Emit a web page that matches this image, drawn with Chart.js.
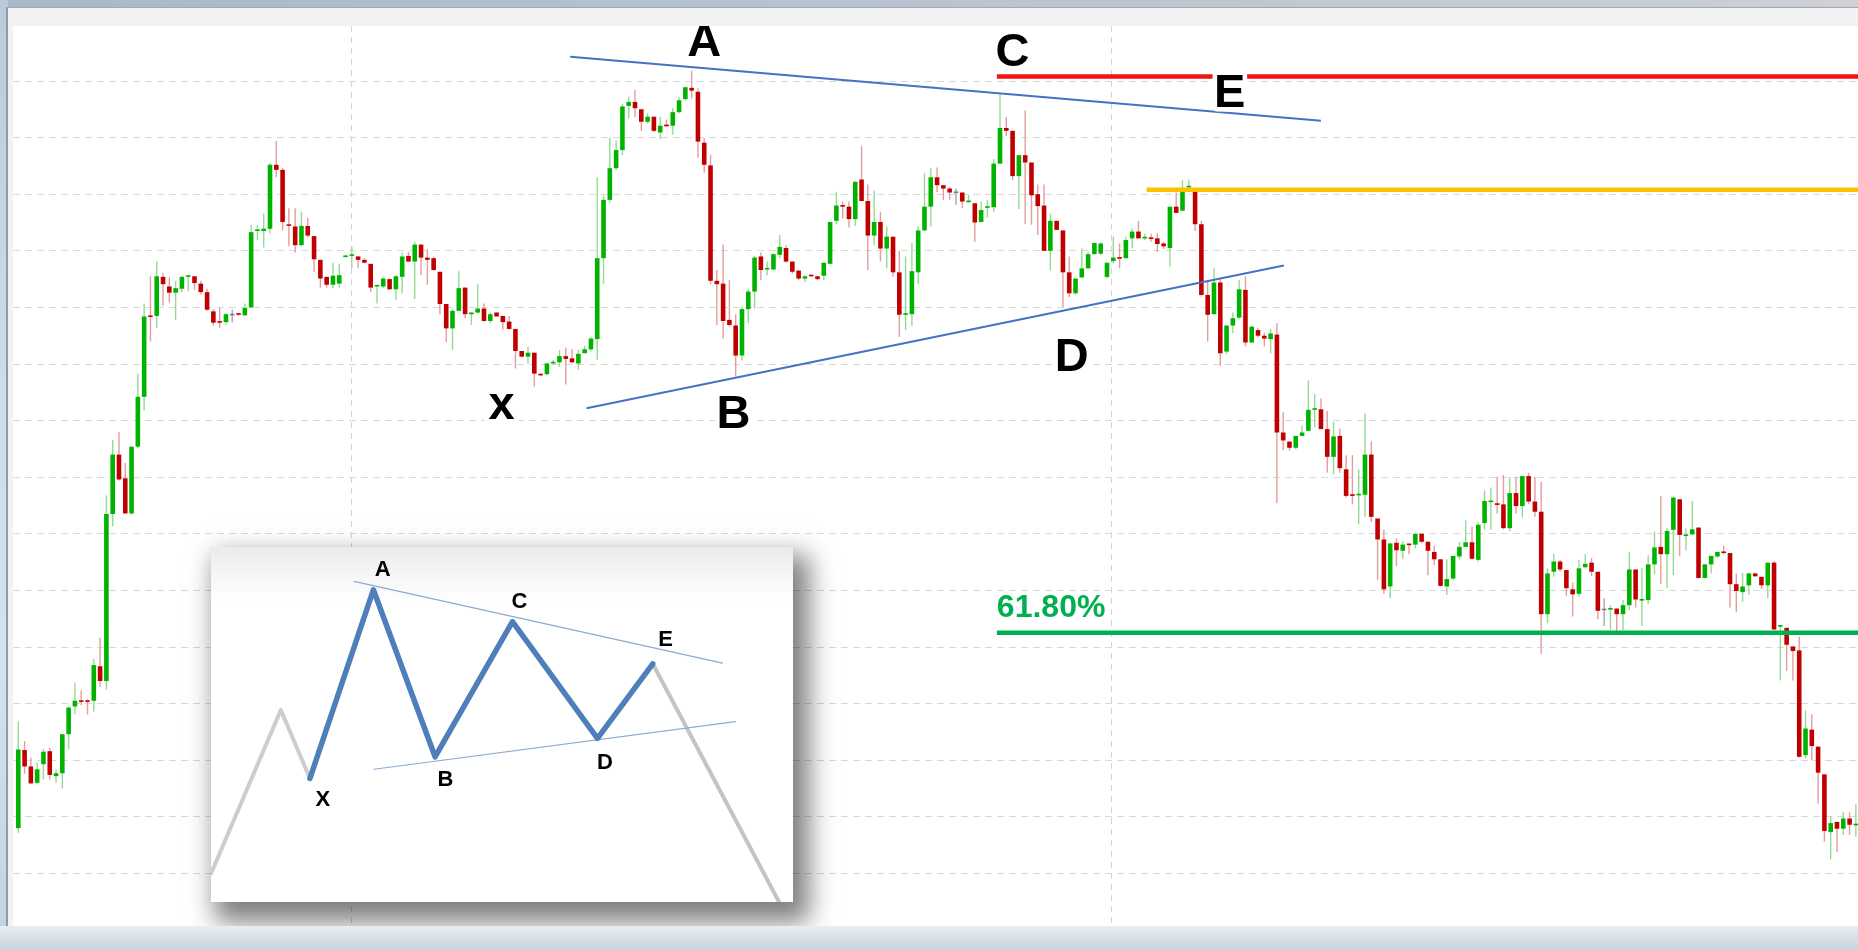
<!DOCTYPE html>
<html>
<head>
<meta charset="utf-8">
<title>XABCDE triangle pattern</title>
<script src="https://cdn.jsdelivr.net/npm/chart.js@4.4.1/dist/chart.umd.min.js"></script>
<style>
  html, body { margin:0; padding:0; }
  body { width:1858px; height:950px; overflow:hidden; position:relative; background:#c9d4de; font-family:"Liberation Sans", Arial, sans-serif; }
  #topband { position:absolute; left:0; top:0; width:1858px; height:8px; background:linear-gradient(90deg,#a9b8c7 0%,#b4c1ce 35%,#bcc6d0 60%,#c6ccd3 85%,#cfd1d4 100%); }
  #leftband { position:absolute; left:0; top:0; width:8px; height:950px; background:linear-gradient(180deg,#b9cadb 0%,#cddceb 40%,#d4e2ee 70%,#c3d2e0 100%); }
  #bottomband { position:absolute; left:0; top:926px; width:1858px; height:24px; background:linear-gradient(180deg,#e9edf1 0%,#d9e1e8 45%,#cad4de 100%); }
  #frame { position:absolute; left:6px; top:7px; width:1852px; height:919px; background:#f2f2f2; border-left:2px solid #939ca6; border-top:1px solid #a2a9b0; box-sizing:border-box; }
  #plot { position:absolute; left:13px; top:26px; width:1845px; height:900px; background:#fff; overflow:hidden; }
  #mainWrap { position:absolute; left:0; top:0; width:1845px; height:900px; }
  #inset { position:absolute; left:198px; top:521px; width:582px; height:355px; background:linear-gradient(180deg,#ebebeb 0px,#f5f5f5 25px,#ffffff 55px); box-shadow:10px 14px 24px 6px rgba(0,0,0,0.5); }
  #insetWrap { position:absolute; left:0; top:0; width:582px; height:355px; }
</style>
</head>
<body>
<div id="topband"></div>
<div id="leftband"></div>
<div id="bottomband"></div>
<div id="frame"></div>
<div id="plot">
  <div id="mainWrap"><canvas id="main"></canvas></div>
  <div id="inset"><div id="insetWrap"><canvas id="insetChart"></canvas></div></div>
</div>
<script>
// ---------- candle data (price units, one candle per index) ----------
const open = [
18.0,31.8,28.9,26.0,29.3,31.6,27.2,27.7,34.6,39.5,
40.5,40.5,40.5,46.6,44.0,73.5,84.0,79.8,73.6,85.4,
94.2,108.5,108.5,115.4,113.7,112.6,113.3,115.4,115.5,114.2,
112.7,109.3,107.4,107.4,108.6,108.9,108.6,110.0,123.5,123.5,
123.9,135.2,134.3,124.6,124.3,121.0,124.4,122.6,118.4,115.4,
114.0,114.2,118.9,119.1,119.0,118.4,117.7,113.7,113.7,115.0,
113.2,115.4,119.1,118.1,121.1,118.8,118.7,116.3,110.6,106.3,
109.4,113.5,108.8,109.1,109.8,107.6,109.1,108.5,107.5,106.2,
102.3,101.3,102.0,98.2,98.2,100.1,100.3,101.4,101.0,100.1,
101.9,102.6,104.4,118.7,129.0,134.6,137.8,145.6,146.3,145.0,
142.8,143.7,140.9,142.3,142.1,144.5,146.8,148.8,148.1,139.1,
135.1,114.7,114.2,107.8,106.8,101.5,109.7,112.8,119.0,116.7,
116.7,119.3,120.5,118.1,116.5,115.1,115.7,115.5,115.6,117.7,
125.3,128.0,127.8,125.6,132.6,128.8,122.7,125.1,120.4,122.5,
116.2,108.7,108.8,116.2,123.6,127.8,133.0,131.6,131.0,130.2,
130.3,128.6,128.4,125.1,127.6,127.7,135.4,141.7,141.2,133.2,
136.9,135.6,130.0,128.0,120.0,125.3,123.6,116.2,112.5,115.3,
116.9,119.4,119.5,115.4,118.2,118.8,118.7,122.2,123.4,122.2,
122.2,122.2,121.3,120.5,127.8,127.1,131.2,130.4,124.7,112.2,
108.8,114.4,102.2,106.8,108.2,113.1,103.8,106.0,105.0,104.4,
105.2,87.9,86.3,85.2,87.3,88.2,91.9,92.0,88.5,83.6,
87.3,81.4,77.0,76.8,76.9,84.0,72.7,69.0,60.7,68.4,
67.0,68.1,68.1,70.0,68.6,66.8,65.5,60.7,62.1,66.0,
67.7,68.5,65.4,71.9,75.6,75.4,75.2,71.0,77.2,74.9,
80.2,75.7,73.9,55.8,63.3,65.1,63.6,60.2,59.4,64.1,
64.9,63.3,56.5,56.6,56.8,55.8,57.4,63.7,58.2,58.3,
64.6,67.7,66.4,70.7,76.1,69.6,69.9,71.1,62.2,64.6,
66.0,66.8,66.6,61.1,59.7,60.9,63.0,62.4,60.9,64.9,
53.6,53.4,50.1,49.4,30.9,35.4,32.4,27.5,17.3,19.1,
17.9,19.7,18.5
];
const high = [
36.9,33.4,30.5,29.6,32.0,32.2,28.3,34.6,39.5,43.7,
42.3,40.8,47.9,51.7,76.8,86.6,88.0,82.5,85.4,98.3,
110.7,115.5,118.1,116.1,115.3,114.7,115.5,115.5,115.5,114.7,
113.3,109.7,109.9,109.0,109.6,109.0,110.7,124.6,124.6,126.6,
135.5,139.4,134.7,127.5,127.5,126.9,125.8,122.6,118.4,115.4,
117.9,117.7,119.3,120.7,119.1,118.7,117.7,113.8,115.3,115.1,
115.7,119.7,119.8,121.6,121.1,120.3,119.0,116.3,110.6,109.7,
116.4,113.5,109.1,114.1,110.7,109.1,109.1,108.5,108.5,106.2,
102.3,103.1,102.0,98.3,100.2,100.7,102.5,102.9,102.6,102.5,
103.2,104.8,133.0,129.8,140.0,139.5,146.0,147.2,148.4,145.0,
144.3,143.7,143.7,143.2,145.2,147.2,149.0,151.8,148.7,139.9,
137.0,116.6,121.1,114.8,108.8,110.1,113.2,119.1,119.7,118.1,
119.6,122.8,121.0,118.1,116.6,115.7,115.7,115.5,117.9,125.1,
130.4,128.7,128.7,132.2,138.5,131.7,130.6,126.9,124.3,122.5,
120.0,119.0,121.4,124.3,133.7,134.6,134.7,131.6,131.3,131.0,
130.3,129.9,128.4,128.7,129.0,136.2,147.8,143.6,141.2,136.9,
144.8,135.6,131.7,131.7,126.6,125.3,123.6,119.0,115.1,120.4,
119.8,121.4,121.5,117.9,122.5,121.3,122.5,124.0,125.3,123.0,
123.0,123.1,121.6,127.8,130.3,132.5,132.6,130.4,125.3,114.6,
116.9,115.1,106.8,109.1,114.8,115.5,106.7,106.3,105.5,106.2,
107.2,91.5,86.3,87.3,89.2,97.1,94.7,93.9,91.7,89.8,
88.6,83.9,83.9,81.4,91.3,86.3,72.7,70.7,68.4,69.2,
68.7,68.1,70.2,70.1,68.6,67.9,65.5,65.5,66.1,68.6,
72.4,71.3,72.0,77.7,78.2,80.1,80.4,80.1,80.1,80.2,
80.8,80.1,79.2,63.9,66.5,65.4,63.6,61.4,65.4,66.4,
65.7,63.3,58.6,57.4,56.8,58.3,66.8,63.7,63.9,66.2,
70.4,76.7,71.0,76.6,76.1,71.0,75.8,71.1,64.6,66.1,
66.8,67.9,66.6,63.0,63.1,63.1,63.1,62.4,64.9,65.2,
53.9,53.4,50.1,51.8,38.8,38.1,32.4,27.5,20.1,19.1,
20.8,20.8,22.2
];
const low = [
17.2,27.6,25.9,25.7,26.6,26.6,26.0,25.0,31.9,38.1,
39.7,38.1,38.6,43.0,42.5,71.3,79.4,73.6,73.4,85.1,
91.8,104.0,106.4,110.3,110.9,107.8,112.7,112.9,113.1,112.3,
109.4,106.8,106.4,107.0,107.4,108.5,108.6,109.9,121.9,120.6,
123.1,133.0,123.6,120.8,119.7,120.8,122.4,116.3,113.5,113.5,
113.4,113.5,118.8,116.9,116.9,117.8,112.7,110.7,113.4,113.1,
111.3,112.5,118.1,111.5,115.7,114.0,116.5,108.8,103.9,102.5,
109.4,108.1,106.9,108.9,107.5,107.2,108.4,106.1,106.1,99.2,
101.2,100.1,96.0,97.9,98.0,99.8,99.5,96.4,100.1,99.0,
101.9,102.2,100.7,114.2,128.5,134.3,136.9,143.4,143.6,141.2,
142.5,141.0,139.7,141.9,140.5,144.3,146.6,146.9,136.5,133.8,
114.1,106.9,104.5,106.6,97.8,100.6,107.2,109.8,114.8,115.7,
116.6,118.7,117.9,116.0,114.8,114.5,115.4,114.8,114.8,117.7,
124.7,125.7,124.1,124.4,128.8,116.6,121.0,118.1,116.9,115.4,
104.8,106.0,106.7,114.1,123.5,124.3,130.4,129.0,129.0,128.1,
127.5,128.5,121.6,125.0,125.9,126.9,135.4,140.3,132.5,127.4,
124.7,124.6,122.8,120.0,116.5,123.7,110.0,111.8,112.2,115.3,
116.9,119.4,119.3,115.1,117.8,116.9,118.7,120.4,122.2,121.9,
121.6,119.8,120.3,117.2,126.7,127.1,130.4,123.5,111.9,104.0,
108.8,99.7,101.8,105.5,107.9,103.1,103.8,104.7,103.1,101.9,
75.4,84.8,84.7,84.9,87.3,88.2,88.8,88.5,80.8,80.5,
80.8,76.4,75.2,71.7,73.0,72.1,61.8,59.4,58.6,64.3,
65.5,66.4,67.4,68.3,62.7,64.5,60.7,59.2,61.8,65.5,
67.7,65.4,65.1,70.7,70.7,73.6,70.8,70.4,73.6,72.9,
75.3,73.0,48.8,54.2,62.4,63.3,59.0,55.4,58.9,63.9,
62.5,54.9,53.7,53.0,52.1,53.0,56.5,57.0,53.7,57.6,
62.9,61.2,60.4,62.7,66.1,67.1,69.9,62.1,62.1,63.0,
65.7,66.4,57.0,56.2,58.0,59.2,62.4,60.2,58.6,53.0,
44.1,45.8,44.1,30.5,30.3,30.0,22.3,15.6,12.5,13.8,
16.8,16.8,16.5
];
const close = [
31.9,28.9,25.9,28.4,31.5,27.4,27.7,34.6,39.3,40.5,
40.3,40.3,46.8,44.0,73.5,84.0,79.6,73.6,85.4,94.2,
108.4,108.3,115.5,114.1,112.6,113.4,115.4,115.5,114.3,112.7,
109.6,107.3,107.3,108.8,108.6,108.7,109.9,123.3,123.6,123.9,
135.2,134.3,125.1,124.4,121.0,124.4,122.7,118.5,115.1,114.0,
115.6,115.7,119.1,119.3,118.4,117.9,113.5,113.8,115.1,113.2,
115.5,119.0,118.1,121.1,118.8,118.4,116.6,110.6,106.3,109.4,
113.4,108.8,109.1,109.8,107.6,108.8,108.4,107.4,106.2,102.3,
101.3,102.0,98.3,98.0,100.1,100.3,101.4,100.9,100.3,101.8,
102.6,104.5,118.7,129.0,134.6,137.8,145.5,146.3,145.2,142.8,
143.7,141.2,142.1,142.0,144.5,146.6,148.9,148.3,139.3,135.2,
114.7,114.1,107.6,106.9,101.5,109.7,112.8,118.8,116.6,116.9,
119.4,120.7,118.1,116.3,115.1,115.5,115.5,115.0,117.9,125.1,
128.0,127.8,125.6,132.2,128.8,122.7,125.1,120.4,122.5,116.2,
108.7,108.8,116.4,123.6,127.8,133.0,131.6,131.0,130.3,130.2,
128.7,128.7,125.0,127.2,127.8,135.4,141.7,141.2,133.2,136.9,
135.6,129.8,127.9,120.0,125.3,123.7,116.2,112.5,115.1,116.9,
119.4,121.4,121.3,117.9,118.8,118.6,121.9,123.4,122.2,122.3,
122.1,121.2,120.8,127.8,126.7,130.4,131.4,124.7,112.2,108.7,
114.4,101.9,106.8,108.1,113.2,103.8,106.6,105.0,104.5,105.4,
87.9,86.5,85.2,87.3,87.9,91.9,92.0,88.5,83.6,87.2,
81.6,76.7,76.7,77.0,84.0,73.0,69.0,60.2,68.3,67.1,
68.1,68.0,70.0,68.6,67.0,65.5,60.8,62.0,66.1,67.7,
68.5,65.6,71.6,75.8,75.8,75.1,71.0,77.2,74.9,80.2,
75.7,73.9,55.8,63.0,65.1,63.7,60.4,59.3,63.9,64.7,
63.3,56.4,56.5,56.8,55.8,57.4,63.7,58.4,58.4,64.6,
67.6,66.4,70.5,76.4,69.8,69.8,70.8,62.2,64.6,66.1,
66.8,66.6,61.1,59.9,60.7,63.0,62.5,60.9,64.9,53.1,
53.7,50.4,49.3,30.6,35.6,32.5,27.8,17.5,18.9,17.9,
19.7,18.6,18.6
];
const greyCandles = [34, 149, 252];        // unchanged (flat) candles drawn grey

// ---------- axes ----------
const xView = [-0.84, 292.34];              // visible candle-index range
const yView = [0.71, 159.72];               // visible price range
const hGridAt = [10,20,30,40,50,60,70,80,90,100,110,120,130,140,150];
const vGridAt = [52.87, 173.64];            // session separators

// ---------- pattern annotations (candle index / price) ----------
const upperTrendX = [87.7, 207.0],  upperTrendY = [154.3, 143.0];
const lowerTrendX = [90.3, 201.1],  lowerTrendY = [92.2, 117.4];
const levelC_X = [155.5, 293.5],    levelC_Y = [150.8, 150.8];
const levelE_X = [179.3, 293.5],    levelE_Y = [130.8, 130.8];
const fibX = [155.5, 293.5],        fibY = [52.5, 52.5];
const pointNames = ['x', 'A', 'B', 'C', 'D', 'E'];
const pointNameX = [76.8, 109.0, 113.65, 158.0, 167.4, 192.5];
const pointNameY = [90.2, 154.5, 88.7, 152.6, 98.85, 145.45];
const fibText = '61.80%', fibTextX = 155.5, fibTextY = 55.3;

// ---------- inset schematic (0..100 units) ----------
const insetLeadX = [0, 12.0, 17.0],  insetLeadY = [8.0, 54.1, 34.8];
const insetWaveX = [17.0, 27.9, 38.5, 51.8, 66.4, 75.9];
const insetWaveY = [34.8, 87.95, 40.9, 79.0, 46.1, 67.1];
const insetBreakX = [75.9, 97.6],    insetBreakY = [67.1, 0];
const insetUpperX = [24.6, 87.9],    insetUpperY = [90.3, 67.3];
const insetLowerX = [28.0, 90.1],    insetLowerY = [37.4, 50.8];
const insetNames = ['X', 'A', 'B', 'C', 'D', 'E'];
const insetNameX = [19.2, 29.5, 40.3, 53.0, 67.7, 78.1];
const insetNameY = [28.7, 93.6, 34.5, 84.6, 39.1, 73.8];

// ---------- build ----------
const zip = (xs, ys) => xs.map((x, k) => ({ x: x, y: ys[k] }));
const idx = open.map((_, i) => i);
const kind = idx.map(i => greyCandles.includes(i) ? 'flat' : (close[i] >= open[i] ? 'up' : 'down'));
const bodyColor = { up: '#00b300', down: '#c00000', flat: '#7f7f7f' };
const wickColor = { up: '#93db93', down: '#e59c9c', flat: '#a6a6a6' };

const FONT = '"Liberation Sans", Arial, Helvetica, sans-serif';

const mainLabels = {
  id: 'mainLabels',
  afterDatasetsDraw(chart) {
    const { ctx } = chart;
    const xs = chart.scales.x, ys = chart.scales.y;
    ctx.save();
    ctx.textAlign = 'center';
    ctx.textBaseline = 'alphabetic';
    ctx.font = 'bold 47px ' + FONT;
    ctx.lineJoin = 'round';
    ctx.lineWidth = 9;
    ctx.strokeStyle = '#ffffff';
    ctx.fillStyle = '#000';
    pointNames.forEach((t, k) => {
      const px = xs.getPixelForValue(pointNameX[k]), py = ys.getPixelForValue(pointNameY[k]);
      ctx.strokeText(t, px, py);
      ctx.fillText(t, px, py);
    });
    ctx.fillStyle = '#00b050';
    ctx.textAlign = 'left';
    ctx.font = 'bold 32px ' + FONT;
    ctx.fillText(fibText, xs.getPixelForValue(fibTextX), ys.getPixelForValue(fibTextY));
    ctx.restore();
  }
};

const lineDs = (xs, ys, color, width, order) => ({
  type: 'line', data: zip(xs, ys), borderColor: color, borderWidth: width,
  pointRadius: 0, tension: 0, fill: false, order: order, borderCapStyle: 'butt'
});

new Chart(document.getElementById('main'), {
  type: 'bar',
  data: {
    datasets: [
      { type: 'bar', label: 'wicks', data: idx.map(i => ({ x: i, y: [low[i], high[i]] })),
        backgroundColor: idx.map(i => wickColor[kind[i]]), borderWidth: 0,
        barThickness: 1.4, maxBarThickness: 1.4, grouped: false, inflateAmount: 0, order: 6 },
      { type: 'bar', label: 'bodies', data: idx.map(i => ({ x: i, y: [open[i], close[i]] })),
        backgroundColor: idx.map(i => bodyColor[kind[i]]), borderWidth: 0,
        barThickness: 4.6, maxBarThickness: 4.6, minBarLength: 1.6, grouped: false, inflateAmount: 0, order: 5 },
      lineDs(upperTrendX, upperTrendY, '#4472c4', 2, 3),
      lineDs(lowerTrendX, lowerTrendY, '#4472c4', 2, 3),
      lineDs(levelC_X, levelC_Y, '#f01414', 4.5, 2),
      lineDs(levelE_X, levelE_Y, '#ffc000', 4.5, 2),
      lineDs(fibX, fibY, '#00b050', 4.5, 2)
    ]
  },
  options: {
    responsive: true, maintainAspectRatio: false, animation: false, devicePixelRatio: 1,
    events: [],
    layout: { padding: 0 },
    plugins: { legend: { display: false }, tooltip: { enabled: false } },
    scales: {
      x: {
        type: 'linear', min: xView[0], max: xView[1], offset: false,
        grid: { color: '#d4d4d4', lineWidth: 1, drawTicks: false, tickLength: 0, offset: false },
        border: { display: false, dash: [6, 5] },
        ticks: { display: false },
        afterBuildTicks: s => { s.ticks = vGridAt.map(v => ({ value: v })); },
        afterFit: s => { s.height = 0; }
      },
      y: {
        type: 'linear', min: yView[0], max: yView[1],
        grid: { color: '#d9d9d9', lineWidth: 1, drawTicks: false, tickLength: 0, offset: false },
        border: { display: false, dash: [7, 5] },
        ticks: { display: false },
        afterBuildTicks: s => { s.ticks = hGridAt.map(v => ({ value: v })); },
        afterFit: s => { s.width = 0; }
      }
    }
  },
  plugins: [mainLabels]
});

const insetLabels = {
  id: 'insetLabels',
  afterDatasetsDraw(chart) {
    const { ctx } = chart;
    const xs = chart.scales.x, ys = chart.scales.y;
    ctx.save();
    ctx.fillStyle = '#000';
    ctx.textAlign = 'center';
    ctx.textBaseline = 'middle';
    ctx.font = 'bold 22px ' + FONT;
    insetNames.forEach((t, k) => {
      ctx.fillText(t, xs.getPixelForValue(insetNameX[k]), ys.getPixelForValue(insetNameY[k]));
    });
    ctx.restore();
  }
};

const insetLine = (xs, ys, color, width, order) => ({
  data: zip(xs, ys), borderColor: color, borderWidth: width, pointRadius: 0,
  tension: 0, fill: false, order: order, borderJoinStyle: 'round', borderCapStyle: 'round'
});

new Chart(document.getElementById('insetChart'), {
  type: 'line',
  data: {
    datasets: [
      insetLine(insetLeadX, insetLeadY, '#cdcdcd', 4, 5),
      insetLine(insetBreakX, insetBreakY, '#c4c4c4', 4, 5),
      insetLine(insetUpperX, insetUpperY, '#8eaad0', 1.2, 3),
      insetLine(insetLowerX, insetLowerY, '#8eaad0', 1.2, 3),
      insetLine(insetWaveX, insetWaveY, '#4f7fbb', 5.5, 1)
    ]
  },
  options: {
    responsive: true, maintainAspectRatio: false, animation: false, devicePixelRatio: 1,
    events: [],
    layout: { padding: 0 },
    plugins: { legend: { display: false }, tooltip: { enabled: false } },
    scales: {
      x: { type: 'linear', min: 0, max: 100, display: false },
      y: { type: 'linear', min: 0, max: 100, display: false }
    }
  },
  plugins: [insetLabels]
});
</script>
</body>
</html>
